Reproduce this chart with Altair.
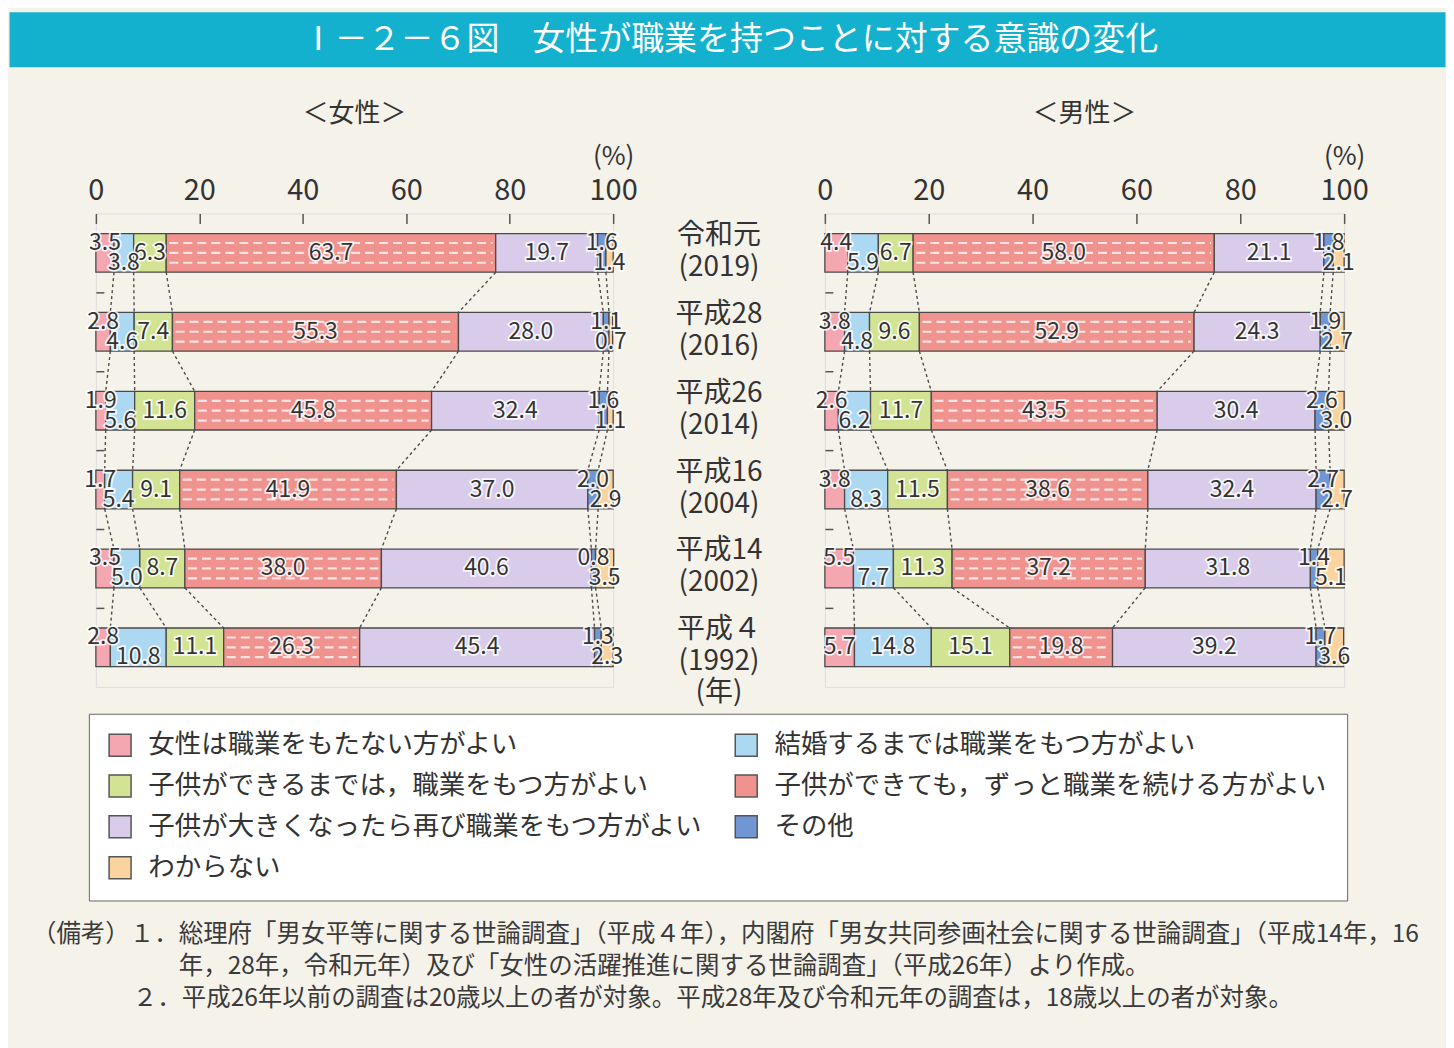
import altair as alt
import pandas as pd

F = "Noto Sans CJK JP"
TXT = "#333333"

categories = [
    "女性は職業をもたない方がよい",
    "結婚するまでは職業をもつ方がよい",
    "子供ができるまでは，職業をもつ方がよい",
    "子供ができても，ずっと職業を続ける方がよい",
    "子供が大きくなったら再び職業をもつ方がよい",
    "その他",
    "わからない",
]
colors = ["#f4a7b0", "#acd8f2", "#d3e394", "#f0938e", "#d9ccea", "#7196d4", "#fbd39e"]

year_labels = ["令和元\n(2019)", "平成28\n(2016)", "平成26\n(2014)",
               "平成16\n(2004)", "平成14\n(2002)", "平成４\n(1992)"]

women_2019 = [3.5, 3.8, 6.3, 63.7, 19.7, 1.6, 1.4]
women_2016 = [2.8, 4.6, 7.4, 55.3, 28.0, 1.1, 0.7]
women_2014 = [1.9, 5.6, 11.6, 45.8, 32.4, 1.6, 1.1]
women_2004 = [1.7, 5.4, 9.1, 41.9, 37.0, 2.0, 2.9]
women_2002 = [3.5, 5.0, 8.7, 38.0, 40.6, 0.8, 3.5]
women_1992 = [2.8, 10.8, 11.1, 26.3, 45.4, 1.3, 2.3]

men_2019 = [4.4, 5.9, 6.7, 58.0, 21.1, 1.8, 2.1]
men_2016 = [3.8, 4.8, 9.6, 52.9, 24.3, 1.9, 2.7]
men_2014 = [2.6, 6.2, 11.7, 43.5, 30.4, 2.6, 3.0]
men_2004 = [3.8, 8.3, 11.5, 38.6, 32.4, 2.7, 2.7]
men_2002 = [5.5, 7.7, 11.3, 37.2, 31.8, 1.4, 5.1]
men_1992 = [5.7, 14.8, 15.1, 19.8, 39.2, 1.7, 3.6]

women = [women_2019, women_2016, women_2014, women_2004, women_2002, women_1992]
men = [men_2019, men_2016, men_2014, men_2004, men_2002, men_1992]

title_text = "Ⅰ－２－６図　女性が職業を持つことに対する意識の変化"
notes = [
    "（備考）１．総理府「男女平等に関する世論調査」（平成４年），内閣府「男女共同参画社会に関する世論調査」（平成14年，16",
    "年，28年，令和元年）及び「女性の活躍推進に関する世論調査」（平成26年）より作成。",
    "２．平成26年以前の調査は20歳以上の者が対象。平成28年及び令和元年の調査は，18歳以上の者が対象。",
]

HALF = 0.245
H = 474


def cumulative(vals):
    out, c = [], 0.0
    for v in vals:
        c = round(c + v, 3)
        out.append(c)
    return out


def seg_table(rows):
    recs = []
    for i, vals in enumerate(rows):
        ends = cumulative(vals)
        for k, v in enumerate(vals):
            if k == 0:
                pos = "mid" if vals[1] >= 12 else "up"
            elif k == 1:
                pos = "mid" if v >= 12 else "down"
            elif k == 5:
                pos = "up"
            elif k == 6:
                pos = "down"
            else:
                pos = "mid"
            start = ends[k] - v
            recs.append({"idx": i, "k": k, "cat": categories[k], "value": v,
                         "start": start, "end": ends[k], "mid": start + v / 2,
                         "top": i - HALF, "bot": i + HALF,
                         "label": f"{v:.1f}", "pos": pos})
    return pd.DataFrame(recs)


def link_table(rows):
    recs = []
    for i in range(len(rows) - 1):
        a = cumulative(rows[i])
        b = cumulative(rows[i + 1])
        for k in range(6):
            recs.append({"x": a[k], "x2": b[k], "y": i + HALF, "y2": i + 1 - HALF})
    return pd.DataFrame(recs)


xscale = alt.Scale(domain=[0, 100], nice=False, zero=False)
yscale = alt.Scale(domain=[-0.5, 5.5], reverse=True, nice=False, zero=False)

legend = alt.Legend(
    title=None, orient="none", legendX=80, legendY=703, columns=2,
    direction="horizontal",
    symbolType="square", symbolSize=484, symbolStrokeColor="#555555",
    symbolStrokeWidth=1.5, labelFont=F, labelFontSize=26.5, labelColor=TXT,
    labelLimit=900, labelOffset=15, rowPadding=12, columnPadding=28,
    padding=18, fillColor="white", strokeColor="#666666",
)


def panel(rows, title, width):
    segs = seg_table(rows)
    links = link_table(rows)
    xaxis = alt.Axis(
        orient="top", values=[0, 20, 40, 60, 80, 100], offset=-10, tickSize=10,
        tickColor="#555555", tickWidth=1.5, domain=False, grid=False,
        labelFont=F, labelFontSize=29, labelColor=TXT, labelPadding=8,
        labelFlush=False, labelOverlap=False,
        title="(%)", titleFont=F, titleFontSize=26, titleFontWeight="normal",
        titleColor=TXT, titleAngle=0, titleAlign="center", titleBaseline="bottom",
        titleX=width, titleY=-54,
    )
    yaxis = alt.Axis(
        orient="left", values=[0.5, 1.5, 2.5, 3.5, 4.5], offset=-8, tickSize=8,
        tickColor="#555555", tickWidth=1.5, domain=False, grid=False,
        labels=False, title=None,
    )
    X = lambda f: alt.X(f, scale=xscale, axis=xaxis)
    Y = lambda f: alt.Y(f, scale=yscale, axis=yaxis)
    bars = alt.Chart(segs).mark_bar(stroke="#4a4a4a", strokeWidth=1.3).encode(
        x=X("start:Q"), x2="end:Q", y=Y("top:Q"), y2="bot:Q",
        color=alt.Color("cat:N", scale=alt.Scale(domain=categories, range=colors),
                        legend=legend),
    )
    layers = [bars]
    # white dashed grid inside the "continue working" segment
    for off in (-0.125, 0.0, 0.125):
        layers.append(
            alt.Chart(segs).transform_filter(alt.datum.k == 3)
            .transform_calculate(gy=f"datum.idx + ({off})",
                                 gx1="datum.start + 0.6", gx2="datum.end - 0.6")
            .mark_rule(color="white", strokeWidth=2.2, strokeDash=[9, 5], opacity=0.75)
            .encode(x=X("gx1:Q"), x2="gx2:Q", y=Y("gy:Q"))
        )
    conn = alt.Chart(links).mark_rule(color="#4d4d4d", strokeDash=[3, 3],
                                      strokeWidth=1.4).encode(
        x=X("x:Q"), x2="x2:Q", y=Y("y:Q"), y2="y2:Q",
    )
    layers.append(conn)
    for pos, dy in (("mid", 0), ("up", -10), ("down", 10)):
        for halo in (True, False):
            kw = dict(font=F, fontSize=23, dy=dy, baseline="middle", align="center")
            if halo:
                kw.update(color="white", stroke="white", strokeWidth=3.5,
                          strokeOpacity=0.85)
            else:
                kw.update(color=TXT)
            layers.append(
                alt.Chart(segs).transform_filter(alt.datum.pos == pos)
                .mark_text(**kw)
                .encode(x=X("mid:Q"), y=Y("idx:Q"), text="label:N")
            )
    return alt.layer(*layers).properties(
        width=width, height=H,
        title=alt.TitleParams(title, font=F, fontSize=26, fontWeight="normal",
                              color=TXT, anchor="middle", offset=17),
    )


CW = 212
transparent = alt.ViewBackground(stroke="transparent", fill="transparent")

center_df = pd.DataFrame({"idx": list(range(6)), "year": year_labels})
center_txt = alt.Chart(center_df).mark_text(
    font=F, fontSize=28, color=TXT, lineBreak="\n", lineHeight=32,
    baseline="middle", dy=-17
).encode(x=alt.value(CW / 2), y=alt.Y("idx:Q", scale=yscale, axis=None), text="year:N")
nen = alt.Chart(pd.DataFrame({"idx": [5], "t": ["(年)"]})).mark_text(
    font=F, fontSize=28, color=TXT, dy=46, baseline="middle"
).encode(x=alt.value(CW / 2), y=alt.Y("idx:Q", scale=yscale, axis=None), text="t:N")
center = alt.layer(center_txt, nen).properties(width=CW, height=H, view=transparent)

# left margin column that also carries the footnotes below the legend
note_layers = []
for txt, xx, yy in zip(notes, (23, 170, 124), (723, 755, 787)):
    note_layers.append(
        alt.Chart(pd.DataFrame({"t": [txt]})).mark_text(
            font=F, fontSize=24.5, color="#3a3a3a", align="left", baseline="middle"
        ).encode(text="t:N", x=alt.value(xx), y=alt.value(yy))
    )
spacer = alt.layer(*note_layers).properties(width=87, height=H, view=transparent)

women_chart = panel(women, "＜女性＞", 518)
men_chart = panel(men, "＜男性＞", 520)

banner = alt.Chart(pd.DataFrame({"t": [title_text]})).mark_text(
    font=F, fontSize=33, color="white", baseline="middle"
).encode(text="t:N", x=alt.value(722), y=alt.value(28)).properties(
    width=1438, height=55, view=alt.ViewBackground(fill="#14b1cf", stroke="transparent"))

panels = alt.hconcat(spacer, women_chart, center, men_chart, spacing=0, bounds="flush")

chart = alt.vconcat(banner, panels, spacing=147, bounds="flush").properties(
    background="#f5f2ea",
    padding={"left": 0, "top": 2, "right": 0, "bottom": 40},
).configure_view(stroke="#555555", strokeWidth=1.5, fill="white").configure(font=F)

chart.save("out.html", embed_options={"renderer": "svg", "actions": False})
